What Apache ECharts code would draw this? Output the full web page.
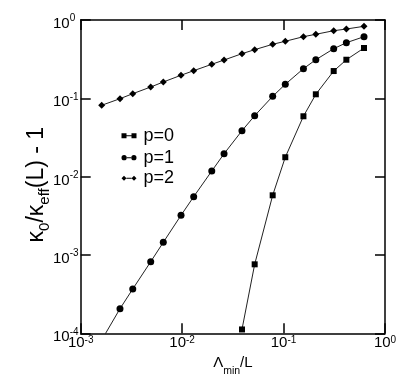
<!DOCTYPE html>
<html>
<head>
<meta charset="utf-8">
<script src="https://cdn.jsdelivr.net/npm/echarts@6/dist/echarts.min.js"></script>
<style>
html,body{margin:0;padding:0;background:#fff;}
#chart{width:415px;height:387px;}
</style>
</head>
<body>
<div id="chart"></div>
<script>
// ---- data ----
var xValues = [0.00161, 0.00244, 0.00326, 0.0049, 0.00652, 0.00975, 0.0130, 0.0196, 0.0259,
               0.0389, 0.0519, 0.0781, 0.104, 0.157, 0.208, 0.312, 0.416, 0.621];
var p0x = [0.0389, 0.0519, 0.0781, 0.104, 0.157, 0.208, 0.312, 0.416, 0.621];
var p0y = [0.000112, 0.00076, 0.00578, 0.0177, 0.059, 0.1126, 0.223, 0.311, 0.439];
var p1y = [0.000082, 0.000206, 0.000368, 0.00082, 0.00145, 0.00321, 0.00555, 0.0118, 0.0196,
           0.0386, 0.060, 0.106, 0.151, 0.239, 0.311, 0.430, 0.513, 0.612];
var p2y = [0.0815, 0.0989, 0.1146, 0.1395, 0.1616, 0.197, 0.2254, 0.272, 0.3085,
           0.3715, 0.418, 0.4895, 0.535, 0.612, 0.657, 0.730, 0.767, 0.831];
var seriesNames = ['p=0', 'p=1', 'p=2'];
var xTickExps = [-3, -2, -1, 0];
var yTickExps = [-4, -3, -2, -1, 0];

function pairs(xs, ys) { return xs.map(function (x, i) { return [x, ys[i]]; }); }
function expOf(v) { return Math.round(Math.log(v) / Math.LN10); }
function fmt(v) { return '{b|10}{s|' + expOf(v) + '}'; }

var FONT = 'Liberation Sans, Arial, sans-serif';
var axisCol = '#000';
var frameLine = { show: true, lineStyle: { color: axisCol, width: 1.5 } };
var tickIn = { show: true, inside: true, length: 10, lineStyle: { color: axisCol, width: 1.5 } };

var legendIcons = [
  'path://M0,0.5h5v5h-5z M5,2.5h5v1h-5z M10,0.5h5v5h-5z',
  'path://M0,3a2.6,2.6 0 1,0 5.2,0a2.6,2.6 0 1,0 -5.2,0z M5,2.5h5v1h-5z M9.8,3a2.6,2.6 0 1,0 5.2,0a2.6,2.6 0 1,0 -5.2,0z',
  'path://M2.5,0.5L5,3L2.5,5.5L0,3z M5,2.5h5v1h-5z M12.5,0.5L15,3L12.5,5.5L10,3z'
];
var legendTops = [121.7, 143.7, 164.3];

var chart = echarts.init(document.getElementById('chart'), null, { renderer: 'canvas' });
chart.setOption({
  animation: false,
  backgroundColor: '#fff',
  textStyle: { fontFamily: FONT, color: '#000' },
  grid: { left: 80.7, right: 30, top: 20, bottom: 53.7, containLabel: false },
  legend: seriesNames.map(function (n, i) {
    return {
      left: 116.5, top: legendTops[i], orient: 'vertical',
      itemWidth: 15, itemHeight: 6, selectedMode: false,
      textStyle: { fontFamily: FONT, fontSize: 18, color: '#000', lineHeight: 18, padding: [0, 0, 0, 2] },
      data: [{ name: n, icon: legendIcons[i] }]
    };
  }),
  xAxis: [{
    type: 'log', logBase: 10, min: Math.pow(10, xTickExps[0]), max: Math.pow(10, xTickExps[xTickExps.length - 1]),
    position: 'bottom',
    axisLine: frameLine, axisTick: tickIn, minorTick: { show: false }, splitLine: { show: false },
    axisLabel: {
      margin: 2, formatter: fmt, fontFamily: FONT, hideOverlap: false,
      rich: {
        b: { fontSize: 15, lineHeight: 15, fontFamily: FONT, color: '#000' },
        s: { fontSize: 10, lineHeight: 10, verticalAlign: 'top', fontFamily: FONT, color: '#000' }
      }
    },
    name: '{n|\u039B}{sub|min}{n|/L}', nameLocation: 'middle', nameGap: 22, nameMoveOverlap: false,
    nameTextStyle: {
      rich: {
        n: { fontSize: 15, lineHeight: 20, verticalAlign: 'top', fontFamily: FONT, color: '#000' },
        sub: { fontSize: 10.5, lineHeight: 10, verticalAlign: 'top', padding: [10, 0, 0, 0], fontFamily: FONT, color: '#000' }
      }
    }
  }, {
    type: 'log', logBase: 10, min: Math.pow(10, xTickExps[0]), max: Math.pow(10, xTickExps[xTickExps.length - 1]),
    position: 'top',
    axisLine: frameLine, axisTick: tickIn, axisLabel: { show: false }, splitLine: { show: false }
  }],
  yAxis: [{
    type: 'log', logBase: 10, min: Math.pow(10, yTickExps[0]), max: Math.pow(10, yTickExps[yTickExps.length - 1]),
    position: 'left',
    axisLine: frameLine, axisTick: tickIn, minorTick: { show: false }, splitLine: { show: false },
    axisLabel: {
      margin: 27.7, align: 'left', formatter: fmt, fontFamily: FONT,
      rich: {
        b: { fontSize: 15, lineHeight: 23, verticalAlign: 'bottom', fontFamily: FONT, color: '#000' },
        s: { fontSize: 10, lineHeight: 10, verticalAlign: 'bottom', padding: [0, 0, 8, 0], fontFamily: FONT, color: '#000' }
      }
    },
    name: '{n|\u03BA}{sub|0}{n|/\u03BA}{sub|eff}{n|(L) - 1}', nameLocation: 'middle', nameGap: 29.5, nameMoveOverlap: false,
    nameTextStyle: {
      padding: [0, 16, 0, 0],
      rich: {
        n: { fontSize: 23, lineHeight: 26, verticalAlign: 'top', fontFamily: FONT, color: '#000' },
        sub: { fontSize: 15, lineHeight: 15, verticalAlign: 'top', padding: [12, 0, 0, 0], fontFamily: FONT, color: '#000' }
      }
    }
  }, {
    type: 'log', logBase: 10, min: Math.pow(10, yTickExps[0]), max: Math.pow(10, yTickExps[yTickExps.length - 1]),
    position: 'right',
    axisLine: frameLine, axisTick: tickIn, axisLabel: { show: false }, splitLine: { show: false }
  }],
  series: [{
    name: seriesNames[0], type: 'line', xAxisIndex: 0, yAxisIndex: 0,
    data: pairs(p0x, p0y), clip: true,
    symbol: 'rect', symbolSize: 6,
    lineStyle: { color: '#222', width: 1 }, itemStyle: { color: '#000' }
  }, {
    name: seriesNames[1], type: 'line', xAxisIndex: 0, yAxisIndex: 0,
    data: pairs(xValues, p1y), clip: true,
    symbol: 'circle', symbolSize: 7,
    lineStyle: { color: '#222', width: 1 }, itemStyle: { color: '#000' }
  }, {
    name: seriesNames[2], type: 'line', xAxisIndex: 0, yAxisIndex: 0,
    data: pairs(xValues, p2y), clip: true,
    symbol: 'diamond', symbolSize: 7,
    lineStyle: { color: '#222', width: 1 }, itemStyle: { color: '#000' }
  }]
});
</script>
</body>
</html>
